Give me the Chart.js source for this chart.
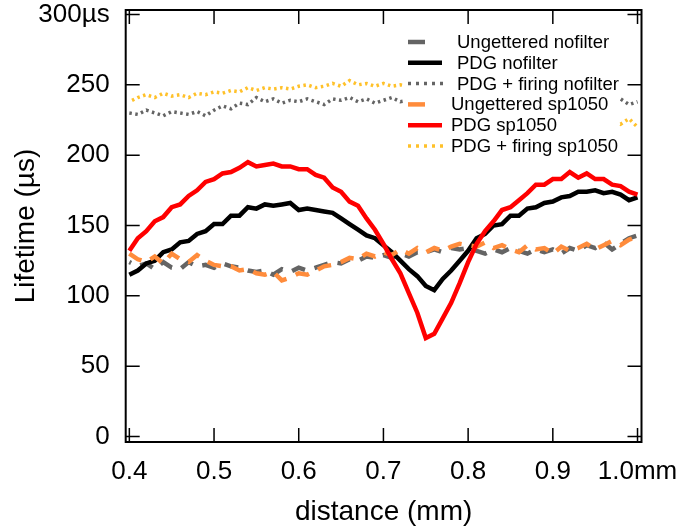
<!DOCTYPE html>
<html>
<head>
<meta charset="utf-8">
<script src="https://cdn.jsdelivr.net/npm/chart.js@4.4.1/dist/chart.umd.min.js"></script>
<style>
  html, body { margin: 0; padding: 0; background: #fff; }
</style>
</head>
<body>
<canvas id="grafico-lifetime" width="679" height="532"></canvas>
<script>
// --- DADOS ---
const distancia = [0.40, 0.41, 0.42, 0.43, 0.44, 0.45, 0.46, 0.47, 0.48, 0.49,
  0.50, 0.51, 0.52, 0.53, 0.54, 0.55, 0.56, 0.57, 0.58, 0.59,
  0.60, 0.61, 0.62, 0.63, 0.64, 0.65, 0.66, 0.67, 0.68, 0.69,
  0.70, 0.71, 0.72, 0.73, 0.74, 0.75, 0.76, 0.77, 0.78, 0.79,
  0.80, 0.81, 0.82, 0.83, 0.84, 0.85, 0.86, 0.87, 0.88, 0.89,
  0.90, 0.91, 0.92, 0.93, 0.94, 0.95, 0.96, 0.97, 0.98, 0.99, 1.00];

const ungetteredNofilter = [124, 121, 123, 119, 124, 120, 119, 124, 121, 122,
  120, 123, 121, 120, 118, 117, 118, 115, 119, 117,
  120, 118, 120, 122, 124, 123, 126, 125, 128, 127,
  129, 127, 130, 128, 131, 131, 133, 131, 134, 133,
  134, 132, 130, 133, 131, 134, 132, 130, 133, 131,
  133, 130, 134, 132, 136, 134, 138, 133, 137, 141, 143];

const pdgNofilter = [115, 118, 123, 125, 131, 133, 138, 139, 144, 146,
  151, 151, 157, 157, 163, 162, 165, 164, 165, 166,
  161, 162, 161, 160, 159, 155, 151, 147, 143, 141,
  136, 131, 125, 119, 114, 107, 104, 112, 118, 125,
  132, 141, 144, 150, 151, 157, 157, 162, 163, 166,
  167, 170, 171, 174, 174, 175, 173, 174, 172, 168, 170];

const pdgFiringNofilter = [230, 229, 232, 230, 228, 231, 230, 229, 231, 228,
  232, 235, 233, 237, 236, 241, 238, 240, 237, 239,
  238, 240, 238, 236, 240, 239, 241, 238, 240, 237,
  239, 241, 238, 239, 240, 238, 239, 241, 238, 240,
  239, 238, 240, 239, 238, 240, 239, 238, 239, 238,
  240, 238, 239, 237, 238, 239, 237, 238, 240, 236, 238];

const ungetteredSp1050 = [130, 126, 124, 128, 123, 130, 126, 124, 129, 125,
  122, 121, 121, 118, 119, 116, 115, 117, 111, 113,
  116, 115, 118, 121, 122, 124, 127, 126, 130, 128,
  131, 129, 133, 130, 134, 131, 134, 132, 135, 137,
  136, 135, 138, 134, 136, 133, 131, 136, 133, 134,
  130, 135, 132, 134, 137, 133, 136, 139, 136, 140, 142];

const pdgSp1050 = [132, 141, 146, 153, 156, 163, 165, 171, 175, 181,
  183, 187, 188, 191, 195, 192, 193, 194, 192, 192,
  190, 190, 186, 184, 177, 174, 167, 164, 155, 147,
  137, 126, 116, 102, 88, 70, 73, 84, 95, 109,
  124, 137, 146, 153, 161, 163, 168, 173, 179, 179,
  183, 183, 188, 184, 187, 183, 183, 179, 178, 174, 172];

const pdgFiringSp1050 = [238, 241, 243, 241, 244, 242, 243, 241, 244, 243,
  245, 244, 246, 245, 248, 246, 248, 247, 248, 247,
  249, 250, 248, 249, 251, 249, 253, 250, 251, 249,
  251, 249, 250, 249, 248, 249, 247, 248, 246, 247,
  245, 246, 244, 243, 244, 242, 241, 240, 238, 237,
  235, 234, 232, 231, 229, 228, 226, 225, 222, 226, 220];

const xTicks = [0.4, 0.5, 0.6, 0.7, 0.8, 0.9, 1.0];
const xTickLabels = ['0.4', '0.5', '0.6', '0.7', '0.8', '0.9', '1.0mm'];
const yTicks = [0, 50, 100, 150, 200, 250, 300];
const yTickLabels = ['0', '50', '100', '150', '200', '250', '300\u00b5s'];

const pontos = (valores) => valores.map((v, i) => ({ x: distancia[i], y: v }));

// --- ESTILOS DAS SERIES ---
const series = [
  { label: 'Ungettered nofilter', data: ungetteredNofilter, cor: '#646464', largura: 4.5, dash: [14, 10], offset: 12, ordem: 4, amostra: 'traco' },
  { label: 'PDG nofilter', data: pdgNofilter, cor: '#000000', largura: 4.5, dash: [], offset: 0, ordem: 3, amostra: 'linha' },
  { label: 'PDG + firing nofilter', data: pdgFiringNofilter, cor: '#646464', largura: 3.5, dash: [2.5, 3.5], offset: 0, ordem: 6, amostra: 'pontos' },
  { label: 'Ungettered sp1050', data: ungetteredSp1050, cor: '#ff8c3c', largura: 4.5, dash: [14, 10], offset: 0, ordem: 2, amostra: 'traco' },
  { label: 'PDG sp1050', data: pdgSp1050, cor: '#ff0000', largura: 4.5, dash: [], offset: 0, ordem: 1, amostra: 'linha' },
  { label: 'PDG + firing sp1050', data: pdgFiringSp1050, cor: '#ffc12a', largura: 3.5, dash: [2.5, 3.5], offset: 3, ordem: 5, amostra: 'pontos' }
];

// moldura com ticks para dentro nos 4 lados
const molduraPlugin = {
  id: 'moldura',
  afterDatasetsDraw(chart) {
    const { ctx, chartArea: a, scales: { x, y } } = chart;
    ctx.save();
    ctx.strokeStyle = '#000';
    ctx.lineWidth = 1.5;
    ctx.beginPath();
    xTicks.forEach(v => {
      const px = x.getPixelForValue(v);
      ctx.moveTo(px, a.bottom); ctx.lineTo(px, a.bottom - 14);
      ctx.moveTo(px, a.top); ctx.lineTo(px, a.top + 14);
    });
    yTicks.forEach(v => {
      const py = y.getPixelForValue(v);
      ctx.moveTo(a.left, py); ctx.lineTo(a.left + 14, py);
      ctx.moveTo(a.right, py); ctx.lineTo(a.right - 14, py);
    });
    ctx.stroke();
    ctx.lineWidth = 2;
    ctx.strokeRect(a.left, a.top, a.right - a.left, a.bottom - a.top);
    ctx.restore();
  }
};

// legenda com fundo branco por cima dos dados
const legendaPlugin = {
  id: 'legenda',
  afterDatasetsDraw(chart) {
    const ctx = chart.ctx;
    ctx.save();
    ctx.fillStyle = '#fff';
    ctx.fillRect(404, 27, 215, 129);
    ctx.font = '18.5px "Liberation Sans", Arial, sans-serif';
    ctx.textBaseline = 'middle';
    series.forEach((s, i) => {
      const yy = 42 + i * 20.8;
      ctx.strokeStyle = s.cor;
      ctx.lineWidth = s.largura;
      ctx.beginPath();
      if (s.amostra === 'traco') {
        ctx.setLineDash([]);
        ctx.moveTo(408, yy); ctx.lineTo(425, yy);
      } else if (s.amostra === 'pontos') {
        ctx.setLineDash([3, 5]);
        ctx.moveTo(408, yy); ctx.lineTo(443, yy);
      } else {
        ctx.setLineDash([]);
        ctx.moveTo(408, yy); ctx.lineTo(442, yy);
      }
      ctx.stroke();
      ctx.setLineDash([]);
      ctx.fillStyle = '#000';
      ctx.fillText(s.label, i < 3 ? 457 : 451, yy + 1);
    });
    ctx.restore();
  }
};

const ctx = document.getElementById('grafico-lifetime').getContext('2d');
new Chart(ctx, {
  type: 'line',
  data: {
    datasets: series.map(s => ({
      label: s.label,
      data: pontos(s.data),
      borderColor: s.cor,
      backgroundColor: s.cor,
      borderWidth: s.largura,
      borderDash: s.dash,
      borderDashOffset: s.offset,
      pointRadius: 0,
      tension: 0,
      fill: false,
      order: s.ordem
    }))
  },
  options: {
    responsive: false,
    animation: false,
    devicePixelRatio: 1,
    layout: { padding: { top: 10, right: 37.5, left: 0, bottom: 0 } },
    plugins: { legend: { display: false }, tooltip: { enabled: false } },
    scales: {
      x: {
        type: 'linear',
        min: 0.3957,
        max: 1.0047,
        grid: { display: false },
        border: { display: false },
        afterBuildTicks: (scale) => { scale.ticks = xTicks.map(v => ({ value: v })); },
        afterFit: (scale) => { scale.height = 90; scale.paddingLeft = 0; scale.paddingRight = 0; },
        ticks: {
          autoSkip: false,
          maxRotation: 0,
          padding: 6,
          color: '#000',
          font: { family: '"Liberation Sans", Arial, sans-serif', size: 26 },
          callback: (value, index) => xTickLabels[index]
        },
        title: {
          display: true,
          text: 'distance (mm)',
          color: '#000',
          font: { family: '"Liberation Sans", Arial, sans-serif', size: 28, lineHeight: 1.2 },
          padding: { top: 0, bottom: 3 }
        }
      },
      y: {
        min: -3.9,
        max: 303.2,
        grid: { display: false },
        border: { display: false },
        afterBuildTicks: (scale) => { scale.ticks = yTicks.map(v => ({ value: v })); },
        afterFit: (scale) => { scale.width = 125.7; scale.paddingTop = 0; scale.paddingBottom = 0; },
        ticks: {
          autoSkip: false,
          padding: 8,
          color: '#000',
          font: { family: '"Liberation Sans", Arial, sans-serif', size: 26 },
          callback: (value, index) => yTickLabels[index]
        },
        title: {
          display: true,
          text: 'Lifetime (\u00b5s)',
          color: '#000',
          font: { family: '"Liberation Sans", Arial, sans-serif', size: 28, lineHeight: 1.2 },
          padding: { top: 9, bottom: 0 }
        }
      }
    }
  },
  plugins: [molduraPlugin, legendaPlugin]
});
</script>
</body>
</html>
